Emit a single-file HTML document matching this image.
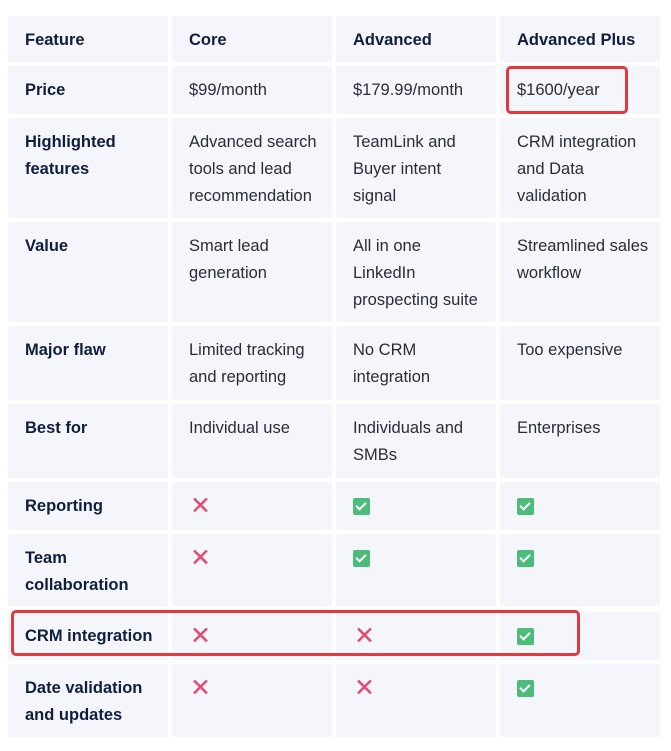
<!DOCTYPE html><html><head><style>
body{margin:0;width:671px;height:751px;background:#fff;position:relative;font-family:"Liberation Sans","DejaVu Sans",sans-serif;overflow:hidden}
.c{position:absolute;background:#f5f6fc;box-sizing:border-box;padding:11px 0 0 17px;font-size:16.5px;line-height:27px;color:#2a2d36;white-space:nowrap}
.b{font-weight:bold;color:#0f1e3d}
.x{color:#e8486d;font-size:25px;font-weight:bold;line-height:27px;margin-left:1px}
.k{display:inline-block;width:17px;height:17px;background:#4cbc7a;border-radius:2px;margin-top:5px;position:relative}
.k:after{content:"";position:absolute;left:5px;top:2px;width:4px;height:8px;border:solid #fff;border-width:0 2px 2px 0;transform:rotate(45deg)}
.r{position:absolute;border:3px solid #e03a3e;border-radius:5px;box-sizing:border-box}
</style></head><body>
<div id="t"></div>
<script>
var cols=[8,172,336,500],w=160;
var rows=[[16,62],[66,114],[118,218],[222,322],[326,400],[404,478],[482,530],[534,606],[612,660],[664,737]];
var X='<span class="x">✕</span>',K='<span class="k"></span>';
var d=[["Feature","Core","Advanced","Advanced Plus"],
["Price","$99/month","$179.99/month","$1600/year"],
["Highlighted<br>features","Advanced search<br>tools and lead<br>recommendation","TeamLink and<br>Buyer intent<br>signal","CRM integration<br>and Data<br>validation"],
["Value","Smart lead<br>generation","All in one<br>LinkedIn<br>prospecting suite","Streamlined sales<br>workflow"],
["Major flaw","Limited tracking<br>and reporting","No CRM<br>integration","Too expensive"],
["Best for","Individual use","Individuals and<br>SMBs","Enterprises"],
["Reporting",X,K,K],
["Team<br>collaboration",X,K,K],
["CRM integration",X,X,K],
["Date validation<br>and updates",X,X,K]];
var h='';
for(var i=0;i<10;i++)for(var j=0;j<4;j++){
h+='<div class="c'+((i==0||j==0)?' b':'')+'" style="left:'+cols[j]+'px;top:'+rows[i][0]+'px;width:'+w+'px;height:'+(rows[i][1]-rows[i][0])+'px">'+d[i][j]+'</div>';}
h+='<div class="r" style="left:506px;top:66px;width:122px;height:48px"></div>';
h+='<div class="r" style="left:11px;top:610px;width:569px;height:46px"></div>';
document.getElementById('t').innerHTML=h;
</script>
</body></html>
